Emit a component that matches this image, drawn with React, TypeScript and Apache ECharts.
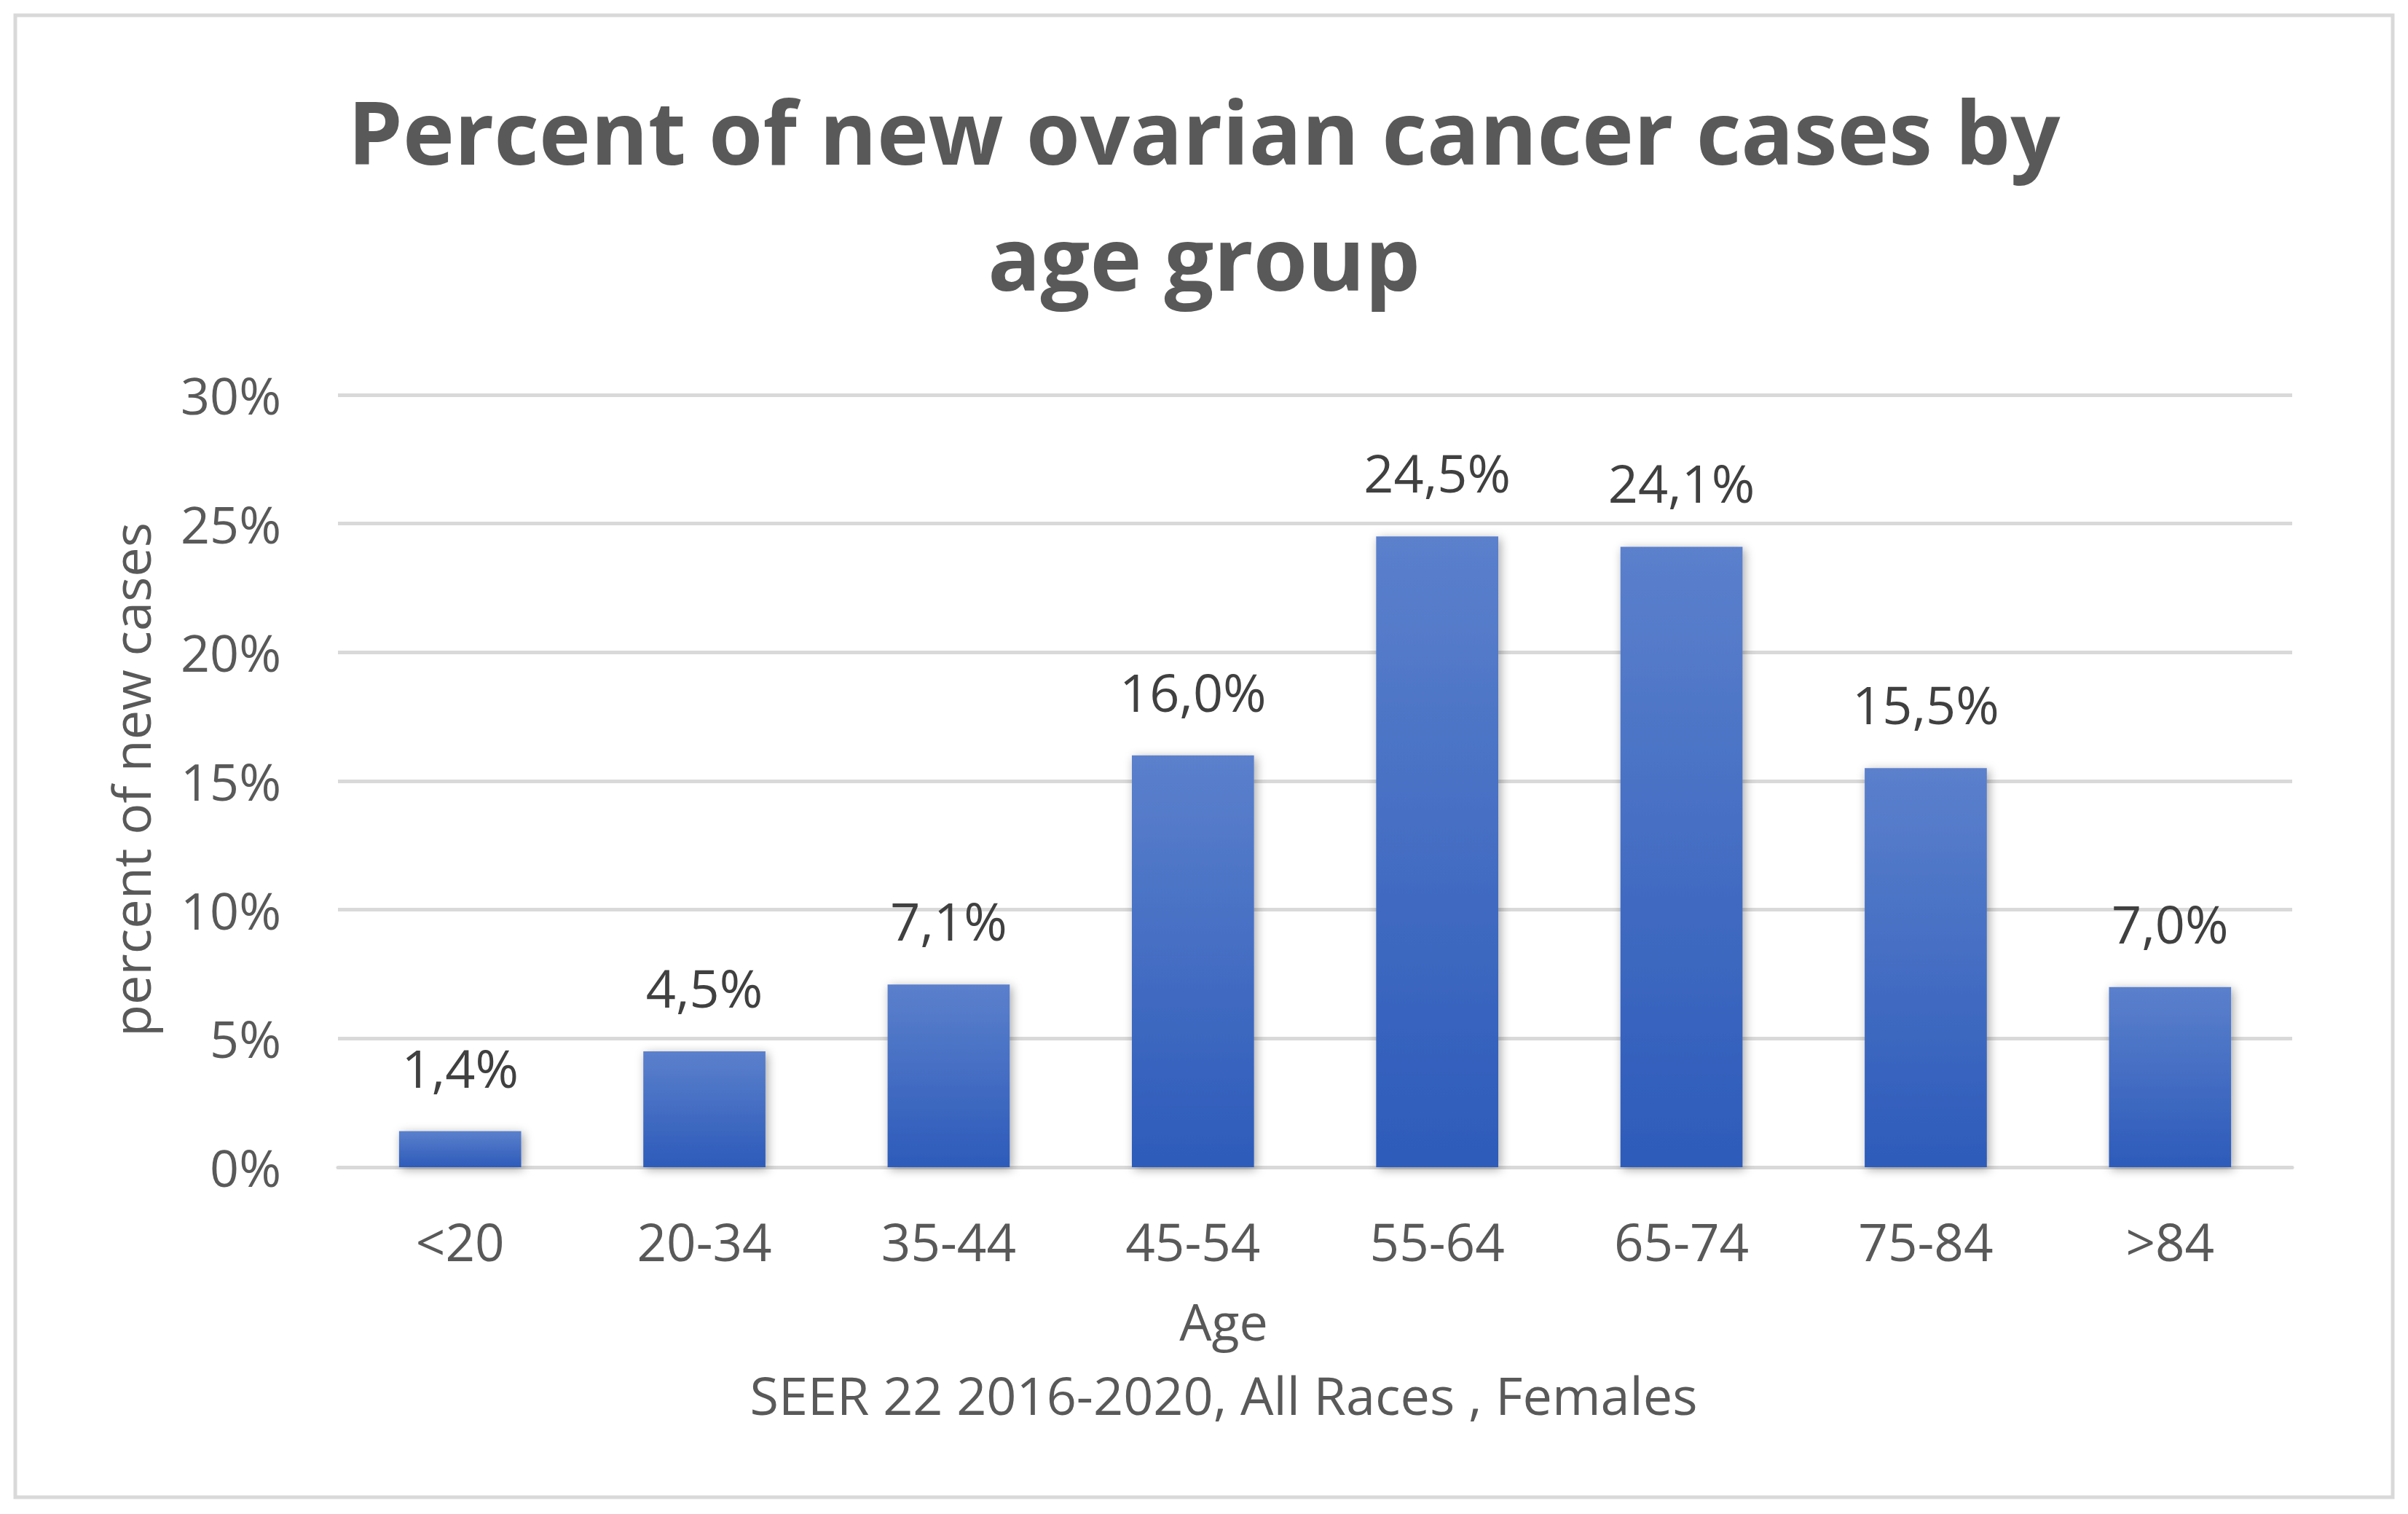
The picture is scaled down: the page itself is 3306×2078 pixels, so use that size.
import React, { useEffect, useRef } from "react";
import * as echarts from "echarts";

const categories = ["<20", "20-34", "35-44", "45-54", "55-64", "65-74", "75-84", ">84"];
const percentValues = [1.4, 4.5, 7.1, 16.0, 24.5, 24.1, 15.5, 7.0];
const yTicks = { min: 0, max: 30, interval: 5 };
const titleText = "Percent of new ovarian cancer cases by\nage group";
const yAxisTitle = "percent of new cases";
const xAxisTitle = "Age";
const sourceNote = "SEER 22 2016-2020, All Races , Females";

const FONT = "'Open Sans', 'Noto Sans', sans-serif";

export default function App() {
  const ref = useRef<HTMLDivElement>(null);
  useEffect(() => {
    if (!ref.current) return;
    const chart = echarts.init(ref.current, null, { renderer: "svg" });
    chart.setOption({
      animation: false,
      backgroundColor: "#ffffff",
      title: {
        text: titleText,
        left: "center",
        top: 88,
        textStyle: {
          fontFamily: FONT,
          fontWeight: "bold",
          fontSize: 120,
          lineHeight: 173,
          color: "#595959",
        },
      },
      grid: { left: 464, right: 159, top: 542, bottom: 476, containLabel: false },
      xAxis: {
        type: "category",
        data: categories,
        axisTick: { show: false },
        axisLine: { show: true, lineStyle: { color: "#d9d9d9", width: 5 } },
        axisLabel: {
          fontFamily: FONT,
          fontSize: 71,
          lineHeight: 71,
          color: "#595959",
          margin: 66,
        },
      },
      yAxis: {
        type: "value",
        min: yTicks.min,
        max: yTicks.max,
        interval: yTicks.interval,
        axisLine: { show: false },
        axisTick: { show: false },
        splitLine: { lineStyle: { color: "#d9d9d9", width: 5 } },
        axisLabel: {
          formatter: "{value}%",
          fontFamily: FONT,
          fontSize: 70,
          color: "#595959",
          margin: 78,
        },
      },
      series: [
        {
          type: "bar",
          data: percentValues,
          barWidth: "50%",
          itemStyle: {
            color: new echarts.graphic.LinearGradient(0, 0, 0, 1, [
              { offset: 0, color: "#5b80cc" },
              { offset: 1, color: "#2d5bba" },
            ]),
            shadowColor: "rgba(0,0,0,0.35)",
            shadowBlur: 14,
            shadowOffsetX: 3,
            shadowOffsetY: 3,
          },
          label: {
            show: true,
            position: "top",
            distance: 52,
            fontFamily: FONT,
            fontSize: 72,
            lineHeight: 72,
            color: "#404040",
            formatter: (p: any) => p.value.toFixed(1).replace(".", ",") + "%",
          },
        },
      ],
      graphic: [
        {
          type: "rect",
          shape: { x: 21, y: 21, width: 3264, height: 2034 },
          style: { fill: "none", stroke: "#d9d9d9", lineWidth: 5 },
          silent: true,
        },
        {
          type: "text",
          x: 179,
          y: 1070,
          rotation: Math.PI / 2,
          style: {
            text: yAxisTitle,
            fontFamily: FONT,
            fontSize: 72,
            fill: "#595959",
            textAlign: "center",
            textVerticalAlign: "middle",
          },
        },
        {
          type: "text",
          x: 1680,
          y: 1813,
          style: {
            text: xAxisTitle,
            fontFamily: FONT,
            fontSize: 70,
            fill: "#595959",
            textAlign: "center",
            textVerticalAlign: "middle",
          },
        },
        {
          type: "text",
          x: 1680,
          y: 1914,
          style: {
            text: sourceNote,
            fontFamily: FONT,
            fontSize: 72,
            fill: "#595959",
            textAlign: "center",
            textVerticalAlign: "middle",
          },
        },
      ],
    });
    return () => chart.dispose();
  }, []);
  return (
    <div
      ref={ref}
      style={{ position: "fixed", left: 0, top: 0, width: 3306, height: 2078, background: "#fff" }}
    />
  );
}
